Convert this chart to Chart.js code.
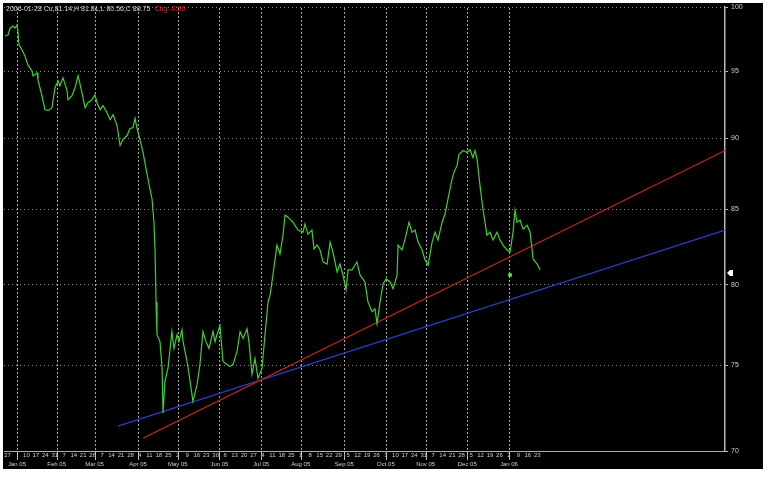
<!DOCTYPE html>
<html><head><meta charset="utf-8">
<script src="https://cdn.jsdelivr.net/npm/chart.js@4/dist/chart.umd.min.js"></script>
<style>html,body{margin:0;padding:0;background:#fff;}canvas{display:block;}</style>
</head><body>
<canvas id="c" width="770" height="479"></canvas>
<script>
// ---- data (x = trading-day index from Mon 27 Dec 2004) ----
const priceIdx = [-1.3,0.3,1.3,2.9,4.0,5.0,5.5,6.1,7.7,9.2,10.8,12.9,13.5,15.6,16.1,18.2,19.8,21.4,23.5,25.1,26.7,27.7,29.3,31.4,32.0,34.1,35.7,37.3,39.4,41.0,42.5,44.6,46.2,47.3,48.9,50.5,52.6,54.2,55.8,57.9,59.5,61.0,63.2,64.7,66.3,67.4,68.4,70.0,71.6,74.3,76.4,77.4,78.0,78.5,79.0,80.6,81.7,82.2,83.2,84.8,86.9,88.0,89.6,90.6,92.2,92.8,94.9,96.5,98.0,100.2,101.7,103.3,104.9,106.5,108.6,109.7,110.7,112.3,113.9,116.0,117.6,119.2,121.3,122.9,124.5,126.6,127.6,129.2,130.8,132.4,134.5,136.1,137.7,138.8,140.3,142.4,144.0,145.6,146.7,148.3,150.9,153.5,156.2,157.2,158.8,160.9,162.0,163.6,165.2,166.8,168.9,170.5,172.0,174.2,175.7,177.3,178.9,180.0,182.1,184.7,186.3,188.9,190.5,192.7,194.2,195.3,196.9,198.5,200.1,202.2,203.8,205.9,206.4,208.5,210.1,212.2,213.8,215.4,217.0,219.1,220.7,222.3,224.4,226.0,227.5,229.7,231.2,232.8,234.9,236.0,237.6,238.6,240.8,242.9,244.4,246.0,247.1,248.2,249.7,251.3,253.4,255.0,256.6,258.7,260.3,261.9,264.0,265.6,267.2,268.2,269.3,270.9,272.5,274.6,276.2,277.8,279.9,281.5];
const priceVal = [97.71,97.79,98.33,98.49,98.33,98.57,98.10,97.01,96.62,96.16,95.47,95.01,94.63,94.86,94.33,93.13,92.09,92.02,92.24,93.73,94.25,93.88,94.48,93.58,92.83,93.13,93.73,94.63,93.35,92.24,92.61,92.83,93.20,92.61,92.09,92.39,91.87,91.36,91.72,90.92,89.48,89.91,90.20,90.70,90.78,91.45,90.75,89.91,88.98,87.08,85.70,84.13,82.14,78.91,76.86,76.43,74.80,72.16,74.03,74.80,77.05,76.01,76.86,76.43,77.17,76.43,75.22,74.03,72.85,73.85,75.04,77.05,76.43,76.01,77.05,76.43,76.86,77.42,75.22,75.04,74.92,75.04,75.82,77.05,76.62,77.23,76.43,74.45,75.40,74.21,74.80,76.86,78.91,79.36,80.64,82.60,82.01,83.26,84.61,84.47,84.13,83.60,83.46,84.00,83.33,83.60,82.34,82.60,82.27,81.48,81.35,82.80,82.14,80.83,81.35,80.64,79.68,80.97,80.97,81.48,80.64,80.19,78.91,78.29,78.48,77.54,78.91,80.06,80.38,80.19,79.75,80.64,82.60,82.27,83.00,84.13,83.46,83.60,82.80,82.27,81.62,81.29,82.80,83.46,82.93,84.13,84.67,85.70,87.08,87.57,88.06,88.84,89.12,88.98,89.19,88.62,89.12,88.48,86.66,85.01,83.26,83.46,82.93,83.46,82.93,82.60,82.27,82.14,83.46,84.94,84.13,84.27,83.66,83.93,83.46,81.68,81.35,80.97];

const redIdx = [71.7, 379.2];
const redVal = [70.73, 89.12];
const blueIdx = [58.4, 379.2];
const blueVal = [71.41, 83.60];

const signalIdx = [265.6];
const signalVal = [80.64];
const lastMarkVal = 80.77;

const yTicks = [70, 75, 80, 85, 90, 95, 100];

const monthIdx = [5, 26, 46, 69, 90, 112, 134, 155, 178, 200, 221, 243, 265];
const monthLbl = ['Jan 05','Feb 05','Mar 05','Apr 05','May 05','Jun 05','Jul 05','Aug 05','Sep 05','Oct 05','Nov 05','Dec 05','Jan 06'];

const dayIdx = [0,10,15,20,25,30,35,40,45,50,55,60,65,70,75,80,85,90,95,100,105,110,115,120,125,130,135,140,145,150,155,160,165,170,175,180,185,190,195,200,205,210,215,220,225,230,235,240,245,250,255,260,265,270,275,280];
const dayLbl = ['27','10','17','24','31','7','14','21','28','7','14','21','28','4','11','18','25','2','9','16','23','30','6','13','20','27','4','11','18','25','1','8','15','22','29','5','12','19','26','3','10','17','24','31','7','14','21','28','5','12','19','26','2','9','16','23'];

const headerText = '2006-01-28 Cu,81.14,H 81.81,L 80.56,C 80.75';
const headerRed = 'Chg -0.56';

const xMin = -1.85, xMax = 379.2;

const pts = (xs, ys) => xs.map((x, i) => ({x: x, y: ys[i]}));

const bgPlugin = {
  id: 'bg',
  beforeDraw(chart) {
    const c = chart.ctx;
    c.save();
    c.fillStyle = '#fff';
    c.fillRect(0, 0, chart.width, chart.height);
    c.fillStyle = '#000';
    c.fillRect(3, 3, 760, 466);
    c.restore();
  },
  beforeDatasetsDraw(chart) {
    const c = chart.ctx;
    const xs = chart.scales.x;
    const a = chart.chartArea;
    c.save();
    c.fillStyle = '#a8a8a8';
    monthIdx.forEach(v => {
      const px = Math.round(xs.getPixelForValue(v));
      for (let y = Math.ceil(a.top); y < a.bottom; y += 4) {
        c.fillRect(px, y, 1, 2);
      }
    });
    c.fillStyle = '#bdbdbd';
    monthIdx.forEach(v => {
      const px = Math.round(xs.getPixelForValue(v));
      c.fillRect(px, a.bottom, 1, 9);
    });
    c.restore();
  },
  afterDraw(chart) {
    const c = chart.ctx;
    const ys = chart.scales.y;
    c.save();
    c.font = '7px "Liberation Sans", Arial, sans-serif';
    c.textBaseline = 'middle';
    c.fillStyle = '#d8d8d8';
    c.fillText(headerText, 6, 9);
    const w = c.measureText(headerText).width;
    c.fillStyle = '#e02a2a';
    c.fillText(headerRed, 6 + w + 4, 9);
    const py = ys.getPixelForValue(lastMarkVal);
    const px = chart.chartArea.right + 2;
    c.fillStyle = '#fff';
    c.beginPath();
    c.moveTo(px, py);
    c.lineTo(px + 3, py - 3);
    c.lineTo(px + 6, py - 3);
    c.lineTo(px + 6, py + 3);
    c.lineTo(px + 3, py + 3);
    c.closePath();
    c.fill();
    c.restore();
  }
};

const fontSpec = {size: 6, family: '"Liberation Sans", Arial, sans-serif'};

new Chart(document.getElementById('c'), {
  type: 'line',
  data: {
    datasets: [
      {data: pts(priceIdx, priceVal), borderColor: '#3fd030', borderWidth: 1.2, pointRadius: 0, tension: 0, fill: false},
      {data: pts(redIdx, redVal), borderColor: '#b42222', borderWidth: 1.2, pointRadius: 0, fill: false},
      {data: pts(blueIdx, blueVal), borderColor: '#2c3fc4', borderWidth: 1.2, pointRadius: 0, fill: false},
      {data: pts(signalIdx, signalVal), showLine: false, pointStyle: 'rect', pointRadius: 2.5, pointBackgroundColor: '#4cf04c', pointBorderColor: '#4cf04c', borderWidth: 0}
    ]
  },
  options: {
    responsive: false,
    animation: false,
    layout: {padding: {left: 4, top: 4, right: 7, bottom: 10}},
    plugins: {legend: {display: false}, tooltip: {enabled: false}},
    scales: {
      x: {
        type: 'linear', position: 'bottom', weight: 1, min: xMin, max: xMax,
        afterBuildTicks: s => { s.ticks = dayIdx.map(v => ({value: v})); },
        ticks: {autoSkip: false, maxRotation: 0, color: '#cfcfcf', padding: 1, font: fontSpec,
          callback: v => { const i = dayIdx.indexOf(v); return i >= 0 ? dayLbl[i] : ''; }},
        grid: {display: false, drawTicks: false},
        border: {display: true, color: '#b0b0b0', width: 1},
        afterFit: s => { s.height = 9; }
      },
      xm: {
        type: 'linear', position: 'bottom', weight: 2, min: xMin, max: xMax,
        afterBuildTicks: s => { s.ticks = monthIdx.map(v => ({value: v})); },
        ticks: {autoSkip: false, maxRotation: 0, color: '#cfcfcf', padding: 1, font: fontSpec,
          callback: v => { const i = monthIdx.indexOf(v); return i >= 0 ? monthLbl[i] : ''; }},
        grid: {display: false, drawTicks: false},
        border: {display: false},
        afterFit: s => { s.height = 9; }
      },
      y: {
        type: 'logarithmic', position: 'right', min: 70, max: 100,
        afterBuildTicks: s => { s.ticks = yTicks.map(v => ({value: v})); },
        ticks: {color: '#d0d0d0', padding: 3, font: {size: 7, family: '"Liberation Sans", Arial, sans-serif'},
          callback: v => String(v)},
        grid: {color: '#8c8c8c', lineWidth: 1, drawTicks: true, tickLength: 3, tickColor: '#bbbbbb'},
        border: {display: true, color: '#b8b8b8', width: 1.5, dash: [1, 3]},
        afterFit: s => { s.width = 38; }
      }
    }
  },
  plugins: [bgPlugin]
});
</script>
</body></html>
